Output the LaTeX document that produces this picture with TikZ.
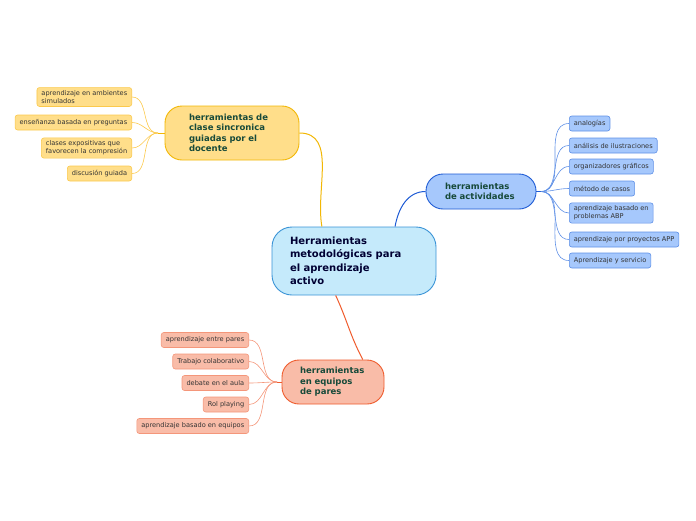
\documentclass[tikz,border=0pt]{standalone}
\usepackage{fontspec}
\setmainfont{DejaVu Sans}
\definecolor{yelfill}{HTML}{FFDE8A}
\definecolor{yelline}{HTML}{F2B705}
\definecolor{yelleaf}{HTML}{FBC94C}
\definecolor{bluefill}{HTML}{A6C8FC}
\definecolor{blueline}{HTML}{1E5BD4}
\definecolor{blueleaf}{HTML}{5F90E6}
\definecolor{redfill}{HTML}{F9BCA8}
\definecolor{redline}{HTML}{EF5B2C}
\definecolor{redleaf}{HTML}{F4967A}
\definecolor{cenfill}{HTML}{C5EAFB}
\definecolor{cenline}{HTML}{3A93D6}
\definecolor{maintext}{HTML}{174A3A}
\begin{document}
\begin{tikzpicture}[x=1pt, y=-1pt,
  topic/.style={draw, line width=0.9pt, rounded corners=17pt, align=left, inner ysep=2pt,
    font=\fontsize{8.5}{10.5}\selectfont\bfseries, text=maintext},
  leaf/.style={draw, line width=0.6pt, rounded corners=2.5pt, align=left, inner xsep=4.5pt,
    inner ysep=3pt, minimum height=15pt, font=\fontsize{6.6}{7.8}\selectfont, text=black!80},
  link/.style={line width=0.6pt}]
\useasboundingbox (0,0) rectangle (696,520);

% central idea
\node[draw=cenline, fill=cenfill, line width=0.9pt, rounded corners=20pt, align=left,
  text width=128pt, inner xsep=18pt, minimum height=68pt, text=blue!20!black,
  font=\fontsize{10}{13.5}\selectfont\bfseries] (cen) at (354,261)
  {Herramientas\\metodológicas para\\el aprendizaje\\activo};

% main topics
\node[topic, draw=yelline, fill=yelfill, text width=86pt, inner xsep=24pt, minimum height=54pt]
  (clase) at (232,133) {herramientas de\\clase sincronica\\guiadas por el\\docente};
\node[topic, draw=blueline, fill=bluefill, text width=72pt, inner xsep=19pt, minimum height=35pt]
  (act) at (481,191.5) {herramientas\\de actividades};
\node[topic, draw=redline, fill=redfill, text width=66pt, inner xsep=18pt, minimum height=44pt]
  (pares) at (333,382) {herramientas\\en equipos\\de pares};

\draw[link, yelline, line width=1pt] (clase.east) to[out=0, in=100] (cen.133);
\draw[link, blueline, line width=1pt] (cen.40) to[out=80, in=180] (act.west);
\draw[link, redline, line width=1pt] (cen.242) to[out=-65, in=118] (pares.37);

% yellow leaves
\coordinate (jy) at (158,133);
\draw[link, yelline] (jy) -- (clase.west);
\node[leaf, draw=yelleaf, fill=yelfill, anchor=east] (y1) at (132,97) {aprendizaje en ambientes\\simulados};
\node[leaf, draw=yelleaf, fill=yelfill, anchor=east] (y2) at (132,122.5) {enseñanza basada en preguntas};
\node[leaf, draw=yelleaf, fill=yelfill, anchor=east] (y3) at (132,148) {clases expositivas que\\favorecen la compresión};
\node[leaf, draw=yelleaf, fill=yelfill, anchor=east] (y4) at (132,173.5) {discusión guiada};
\foreach \n in {y1,y2,y3,y4}
  \draw[link, yelleaf] (\n.east) to[out=0, in=180] (jy);

% blue leaves
\coordinate (jb) at (541,191.5);
\draw[link, blueline] (act.east) -- (jb);
\node[leaf, draw=blueleaf, fill=bluefill, anchor=west] (b1) at (569,123.5) {analogías};
\node[leaf, draw=blueleaf, fill=bluefill, anchor=west] (b2) at (569,145.5) {análisis de ilustraciones};
\node[leaf, draw=blueleaf, fill=bluefill, anchor=west] (b3) at (569,166.5) {organizadores gráficos};
\node[leaf, draw=blueleaf, fill=bluefill, anchor=west] (b4) at (569,188.5) {método de casos};
\node[leaf, draw=blueleaf, fill=bluefill, anchor=west] (b5) at (569,213) {aprendizaje basado en\\problemas ABP};
\node[leaf, draw=blueleaf, fill=bluefill, anchor=west] (b6) at (569,239.5) {aprendizaje por proyectos APP};
\node[leaf, draw=blueleaf, fill=bluefill, anchor=west] (b7) at (569,260.5) {Aprendizaje y servicio};
\foreach \n in {b1,b2,b3,b4,b5,b6,b7}
  \draw[link, blueleaf] (jb) to[out=0, in=180] (\n.west);

% red leaves
\coordinate (jr) at (277,382);
\draw[link, redline] (jr) -- (pares.west);
\node[leaf, draw=redleaf, fill=redfill, anchor=east] (r1) at (249,340) {aprendizaje entre pares};
\node[leaf, draw=redleaf, fill=redfill, anchor=east] (r2) at (249,361.5) {Trabajo colaborativo};
\node[leaf, draw=redleaf, fill=redfill, anchor=east] (r3) at (249,383) {debate en el aula};
\node[leaf, draw=redleaf, fill=redfill, anchor=east] (r4) at (249,404.5) {Rol playing};
\node[leaf, draw=redleaf, fill=redfill, anchor=east] (r5) at (249,426) {aprendizaje basado en equipos};
\foreach \n in {r1,r2,r3,r4,r5}
  \draw[link, redleaf] (\n.east) to[out=0, in=180] (jr);
\end{tikzpicture}
\end{document}
